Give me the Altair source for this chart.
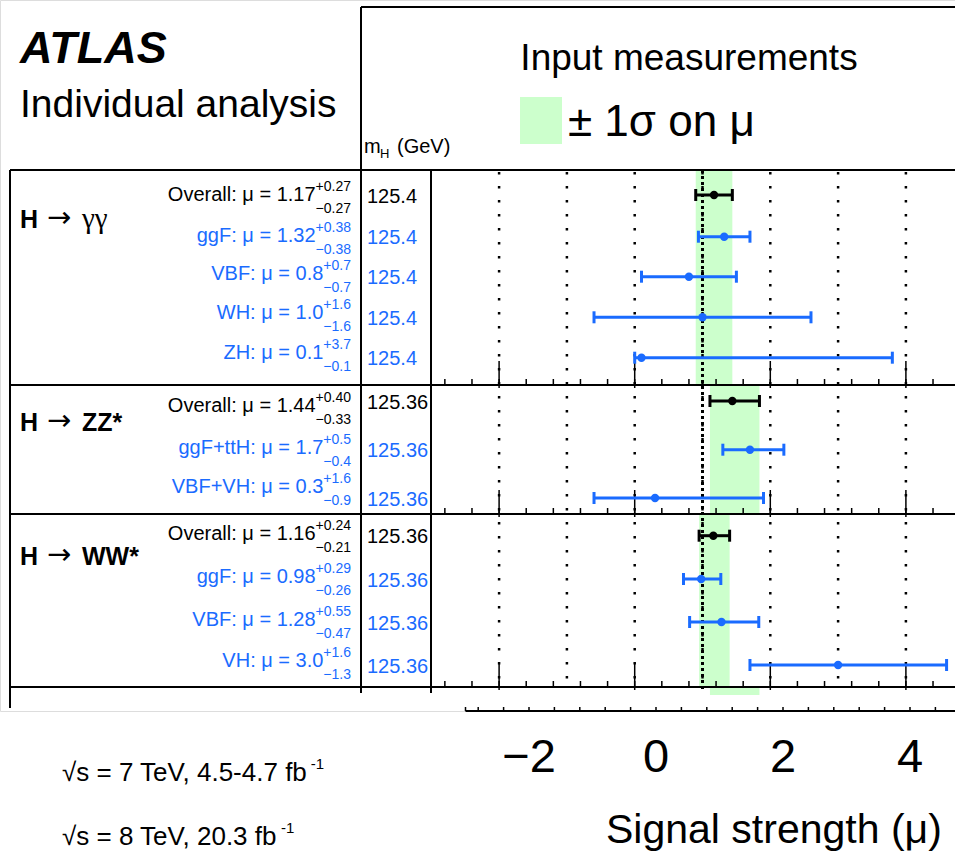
import altair as alt
import pandas as pd

# ---------------- data ----------------
decays = ["γγ"] * 5 + ["ZZ*"] * 3 + ["WW*"] * 4
channels = ["Overall", "ggF", "VBF", "WH", "ZH",
            "Overall", "ggF+ttH", "VBF+VH",
            "Overall", "ggF", "VBF", "VH"]
mu = [1.17, 1.32, 0.8, 1.0, 0.1, 1.44, 1.7, 0.3, 1.16, 0.98, 1.28, 3.0]
mu_txt = ["1.17", "1.32", "0.8", "1.0", "0.1", "1.44", "1.7", "0.3",
          "1.16", "0.98", "1.28", "3.0"]
err_up = [0.27, 0.38, 0.7, 1.6, 3.7, 0.40, 0.5, 1.6, 0.24, 0.29, 0.55, 1.6]
err_dn = [0.27, 0.38, 0.7, 1.6, 0.1, 0.33, 0.4, 0.9, 0.21, 0.26, 0.47, 1.3]
up_txt = ["+0.27", "+0.38", "+0.7", "+1.6", "+3.7", "+0.40", "+0.5", "+1.6",
          "+0.24", "+0.29", "+0.55", "+1.6"]
dn_txt = ["−0.27", "−0.38", "−0.7", "−1.6", "−0.1", "−0.33", "−0.4", "−0.9",
          "−0.21", "−0.26", "−0.47", "−1.3"]
mass_txt = ["125.4"] * 5 + ["125.36"] * 7
decay_names = ["γγ", "ZZ*", "WW*"]
grid_values = [-2, -1, 0, 1, 2, 3, 4]
axis_label_values = [-2, 0, 2, 4]
axis_labels = ["−2", "0", "2", "4"]
sm_value = [1.0]
lumi_lines = ["√s = 7 TeV, 4.5-4.7 fb", "√s = 8 TeV, 20.3 fb"]

# ---------------- layout (pixels) ----------------
F = "Liberation Sans"
BLUE = "#1a6bff"
GREEN = "#ccffcc"
W, H_PLOT, H_TOTAL = 955, 711, 855
row_y = [195, 236.7, 276.7, 317.3, 357.7, 401, 449.7, 498, 535.7, 579, 622, 665]
label_base = [200.7, 241.7, 280, 319.3, 359.3, 411.7, 454, 493.3, 540, 582.7, 626, 667.3]
panel_edges = [170, 385, 514, 687]
group_label_y = [228, 431, 565]
lumi_y = [781, 845]
SCRIPT_RIGHT = 351

# main mu scale: mu=-3 at x=431.3, 67.8 px per unit
px0, ppu = 634.7, 67.8
scale_a = alt.Scale(domain=[-px0 / ppu, (W - px0) / ppu], nice=False, zero=False)
# lower axis scale: mu=0 at x=656, 63.5 px per unit
bx0, bpu = 656.0, 63.5
scale_b = alt.Scale(domain=[-bx0 / bpu, (W - bx0) / bpu], nice=False, zero=False)

ADV = {"+": .584, "−": .584, ".": .278, " ": .278, "=": .584, "√": .549,
       "s": .5, "T": .611, "e": .556, "V": .667, ",": .278, "-": .333,
       "f": .278, "b": .556}


def text_width(s, size):
    return size * sum(ADV.get(c, .556) for c in s)


rows = pd.DataFrame({
    "decay": decays, "channel": channels, "mu": mu,
    "lo": [m - d for m, d in zip(mu, err_dn)],
    "hi": [m + u for m, u in zip(mu, err_up)],
    "main": [f"{c}: μ = {t}" for c, t in zip(channels, mu_txt)],
    "up": up_txt, "dn": dn_txt, "mass": mass_txt,
    "y": row_y,
})
rows["col"] = [("black" if c == "Overall" else BLUE) for c in channels]
rows["cap_t"] = rows["y"] - 6
rows["cap_b"] = rows["y"] + 6
rows["lab_y"] = label_base
rows["sup_y"] = rows["lab_y"] - 10
rows["sub_y"] = rows["lab_y"] + 12
rows["lab_x"] = [SCRIPT_RIGHT - text_width(u, 14) for u in up_txt]
rows["mass_y"] = rows["y"] + 7.5

# +-1 sigma bands from the "Overall" rows
ov = rows[rows["channel"] == "Overall"].reset_index(drop=True)
bands = pd.DataFrame({
    "lo": list(ov["lo"]) + [ov["lo"][1]],
    "hi": list(ov["hi"]) + [ov["hi"][1]],
    "top": panel_edges[:3] + [687],
    "bot": panel_edges[1:] + [695],
})

XS = lambda f: alt.X(f, scale=scale_a, axis=None)
XB = lambda f: alt.X(f, scale=scale_b, axis=None)
PX = lambda f: alt.X(f, scale=None, axis=None)
PY = lambda f: alt.Y(f, scale=None, axis=None)
COL = alt.Color("col:N", scale=None, legend=None)

layers = []

# bands
layers.append(alt.Chart(bands).mark_rect(color=GREEN).encode(
    x=XS("lo:Q"), x2="hi:Q", y=PY("top:Q"), y2="bot:Q"))

# dotted grid
grid = pd.DataFrame({"g": grid_values})
layers.append(alt.Chart(grid).mark_rule(color="black", strokeWidth=2.5,
                                         strokeDash=[2.5, 11.5]).encode(
    x=XS("g:Q"), y=alt.value(172), y2=alt.value(687)))

# SM line
layers.append(alt.Chart(pd.DataFrame({"g": sm_value})).mark_rule(
    color="black", strokeWidth=3, strokeDash=[3, 3]).encode(
    x=XS("g:Q"), y=alt.value(170), y2=alt.value(691)))

# frame lines
segs = pd.DataFrame([
    (361, 7, 955, 7), (361, 7, 361, 693), (10, 170, 955, 170),
    (10, 170, 10, 708), (431, 170, 431, 693),
    (10, 385, 955, 385), (10, 514, 955, 514), (10, 687, 955, 687),
], columns=["x1", "y1", "x2", "y2"])
layers.append(alt.Chart(segs).mark_rule(color="black", strokeWidth=2).encode(
    x=PX("x1:Q"), x2="x2:Q", y=PY("y1:Q"), y2="y2:Q"))

# panel tick marks (upward from each panel bottom line)
minor = [round(-2.8 + 0.4 * k, 1) for k in range(19)]
major = [-2, 0, 2, 4]
tk = []
for yb in panel_edges[1:]:
    for v in minor:
        tk.append({"v": v, "yb": yb, "yt": yb - 6})
    for v in major:
        tk.append({"v": v, "yb": yb + 3, "yt": yb - 24})
layers.append(alt.Chart(pd.DataFrame(tk)).mark_rule(color="black", strokeWidth=1.5).encode(
    x=XS("v:Q"), y=PY("yb:Q"), y2="yt:Q"))

# error bars
layers.append(alt.Chart(rows).mark_rule(strokeWidth=3).encode(
    x=XS("lo:Q"), x2="hi:Q", y=PY("y:Q"), color=COL))
layers.append(alt.Chart(rows).mark_rule(strokeWidth=3).encode(
    x=XS("lo:Q"), y=PY("cap_t:Q"), y2="cap_b:Q", color=COL))
layers.append(alt.Chart(rows).mark_rule(strokeWidth=3).encode(
    x=XS("hi:Q"), y=PY("cap_t:Q"), y2="cap_b:Q", color=COL))
layers.append(alt.Chart(rows).mark_circle(size=70, opacity=1).encode(
    x=XS("mu:Q"), y=PY("y:Q"), color=COL))

# row labels
layers.append(alt.Chart(rows).mark_text(align="right", baseline="alphabetic",
                                         fontSize=20, font=F).encode(
    x=PX("lab_x:Q"), y=PY("lab_y:Q"), text="main:N", color=COL))
layers.append(alt.Chart(rows).mark_text(align="left", baseline="alphabetic",
                                         fontSize=14, font=F).encode(
    x=PX("lab_x:Q"), y=PY("sup_y:Q"), text="up:N", color=COL))
layers.append(alt.Chart(rows).mark_text(align="right", baseline="alphabetic",
                                         fontSize=14, font=F).encode(
    x=alt.value(SCRIPT_RIGHT), y=PY("sub_y:Q"), text="dn:N", color=COL))
layers.append(alt.Chart(rows).mark_text(align="left", baseline="alphabetic",
                                         fontSize=20, font=F).encode(
    x=alt.value(367), y=PY("mass_y:Q"), text="mass:N", color=COL))

# group labels: "H" (bold) + arrow + decay products
glab = pd.DataFrame({"h": ["H"] * 3, "arr": ["→"] * 3, "t": decay_names,
                     "y": group_label_y})
glab["ya"] = glab["y"] - 1
layers.append(alt.Chart(glab).mark_text(align="left", baseline="alphabetic", fontSize=25,
                                         fontWeight="bold", font=F, color="black").encode(
    x=alt.value(20), y=PY("y:Q"), text="h:N"))
layers.append(alt.Chart(glab).mark_text(align="left", baseline="alphabetic", fontSize=29,
                                         font="DejaVu Sans", color="black").encode(
    x=alt.value(47), y=PY("ya:Q"), text="arr:N"))
layers.append(alt.Chart(glab.iloc[:1]).mark_text(align="left", baseline="alphabetic", fontSize=29,
                                                 font="Liberation Serif", color="black").encode(
    x=alt.value(82), y=PY("y:Q"), text="t:N"))
layers.append(alt.Chart(glab.iloc[1:]).mark_text(align="left", baseline="alphabetic", fontSize=25,
                                                 fontWeight="bold", font=F, color="black").encode(
    x=alt.value(82), y=PY("y:Q"), text="t:N"))

# lower axis
layers.append(alt.Chart(pd.DataFrame({"a": [-3.0]})).mark_rule(color="black", strokeWidth=2).encode(
    x=XB("a:Q"), x2=alt.value(W), y=alt.value(711)))
btk = pd.DataFrame({"v": [-3.0] + minor})
layers.append(alt.Chart(btk).mark_rule(color="black", strokeWidth=1.5).encode(
    x=XB("v:Q"), y=alt.value(707), y2=alt.value(711)))
blab = pd.DataFrame({"v": axis_label_values, "t": axis_labels})
layers.append(alt.Chart(blab).mark_text(align="center", baseline="alphabetic", fontSize=47,
                                         font=F, color="black").encode(
    x=XB("v:Q"), y=alt.value(772), text="t:N"))


def txt(s, x, y, size, align="left", weight="normal", style="normal", color="black", font=F):
    return alt.Chart(pd.DataFrame({"t": [s]})).mark_text(
        align=align, baseline="alphabetic", fontSize=size, fontWeight=weight,
        fontStyle=style, color=color, font=font).encode(
        text="t:N", x=alt.value(x), y=alt.value(y))


# legend swatch
layers.append(alt.Chart(pd.DataFrame({"t": ["band"]})).mark_rect(color=GREEN).encode(
    x=alt.value(520), x2=alt.value(562), y=alt.value(97), y2=alt.value(144)))

LUMI_SIZE = 26
layers += [
    txt("ATLAS", 20, 63, 45, weight="bold", style="italic"),
    txt("Individual analysis", 20, 117, 39),
    txt("Input measurements", 689, 70, 37, align="center"),
    txt("± 1σ on μ", 568, 136, 44),
    txt("m", 364, 153, 20),
    txt("H", 380, 158, 13),
    txt("(GeV)", 397, 153, 20),
    txt("Signal strength (μ)", 606, 843, 41),
]
for s, yb in zip(lumi_lines, lumi_y):
    layers.append(txt(s, 62, yb, LUMI_SIZE))
    layers.append(txt("-1", 62 + 0.985 * text_width(s, LUMI_SIZE) + 2, yb - 12, 15))

chart = alt.layer(*layers).resolve_scale(x="independent").properties(
    width=W, height=H_PLOT,
    padding={"left": 0, "right": 0, "top": 0, "bottom": H_TOTAL - H_PLOT},
    autosize=alt.AutoSizeParams(type="none"),
).configure_view(stroke=None).configure(background="white")

chart.save("out.html", embed_options={"renderer": "svg", "actions": False})
